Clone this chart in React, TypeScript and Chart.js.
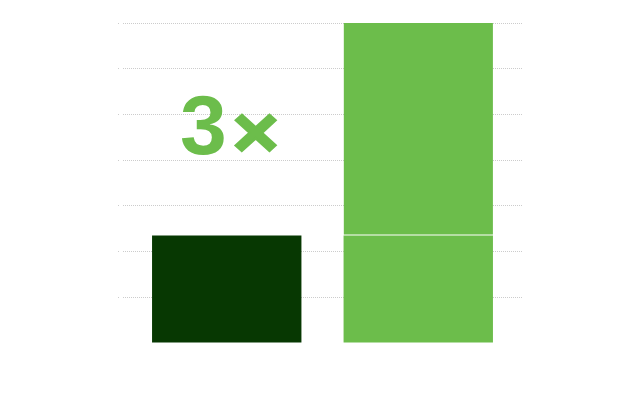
import { useEffect, useRef } from "react";
import { Chart, registerables, Plugin } from "chart.js";

Chart.register(...registerables);

const categories = [""];
const baseValues = [2.35];
const newBottomValues = [2.35];
const newTopValues = [4.65];
const yTicks = [0, 1, 2, 3, 4, 5, 6, 7];
const multiplierLabel = "3×";

const DARK_GREEN = "#073802";
const LIGHT_GREEN = "#6cbd4b";

// ink boxes of each glyph of the label: [left, top, right, bottom, extra stroke]
const glyphBoxes = [
  [181, 95, 224, 155, 0],
  [235, 115, 276, 152, 2.5],
];

const labelPlugin: Plugin<"bar"> = {
  id: "multiplierLabel",
  afterDraw(chart) {
    const { ctx } = chart;
    ctx.save();
    ctx.fillStyle = LIGHT_GREEN;
    ctx.strokeStyle = LIGHT_GREEN;
    ctx.lineJoin = "miter";
    ctx.font = "bold 84px 'Liberation Sans', Arial, sans-serif";
    ctx.textAlign = "left";
    ctx.textBaseline = "alphabetic";
    Array.from(multiplierLabel).forEach((ch, i) => {
      const box = glyphBoxes[i];
      if (!box) return;
      const m = ctx.measureText(ch);
      const inkW = m.actualBoundingBoxLeft + m.actualBoundingBoxRight;
      const inkH = m.actualBoundingBoxAscent + m.actualBoundingBoxDescent;
      const sx = (box[2] - box[0]) / inkW;
      const sy = (box[3] - box[1]) / inkH;
      ctx.save();
      ctx.translate(box[0], box[1]);
      ctx.scale(sx, sy);
      ctx.fillText(ch, m.actualBoundingBoxLeft, m.actualBoundingBoxAscent);
      if (box[4] > 0) {
        ctx.lineWidth = box[4];
        ctx.strokeText(ch, m.actualBoundingBoxLeft, m.actualBoundingBoxAscent);
      }
      ctx.restore();
    });
    ctx.restore();
  },
};

const App = () => {
  const canvasRef = useRef<HTMLCanvasElement>(null);
  const chartRef = useRef<Chart | null>(null);

  useEffect(() => {
    if (!canvasRef.current) return;
    if (chartRef.current) chartRef.current.destroy();

    chartRef.current = new Chart(canvasRef.current, {
      type: "bar",
      data: {
        labels: categories,
        datasets: [
          {
            label: "Before",
            data: baseValues,
            backgroundColor: DARK_GREEN,
            stack: "a",
          },
          {
            label: "After (base)",
            data: newBottomValues,
            backgroundColor: LIGHT_GREEN,
            stack: "b",
          },
          {
            label: "After (gain)",
            data: newTopValues,
            backgroundColor: LIGHT_GREEN,
            borderColor: "#ffffff",
            borderWidth: { bottom: 1, top: 0, left: 0, right: 0 },
            borderSkipped: false,
            stack: "b",
          },
        ],
      },
      options: {
        animation: false,
        responsive: true,
        maintainAspectRatio: false,
        layout: { padding: { left: 118, right: 118, top: 23, bottom: 57 } },
        datasets: {
          bar: { categoryPercentage: 0.96, barPercentage: 0.78 },
        },
        plugins: {
          legend: { display: false },
          tooltip: { enabled: false },
        },
        scales: {
          x: { display: false, stacked: true },
          y: {
            stacked: true,
            min: yTicks[0],
            max: yTicks[yTicks.length - 1],
            afterBuildTicks: (axis) => {
              axis.ticks = yTicks.map((v) => ({ value: v }));
            },
            border: { display: false, dash: [1, 1] },
            ticks: { display: false },
            grid: {
              color: (c) => (c.tick && c.tick.value === 0 ? "transparent" : "#cccccc"),
              lineWidth: 1,
              drawTicks: true,
              tickLength: 5,
              tickBorderDash: [1, 4],
            },
          },
        },
      },
      plugins: [labelPlugin],
    });

    return () => {
      if (chartRef.current) {
        chartRef.current.destroy();
        chartRef.current = null;
      }
    };
  }, []);

  return (
    <div
      style={{
        position: "absolute",
        left: 0,
        top: 0,
        width: 640,
        height: 400,
        background: "#ffffff",
      }}
    >
      <canvas ref={canvasRef} />
    </div>
  );
};

export default App;
